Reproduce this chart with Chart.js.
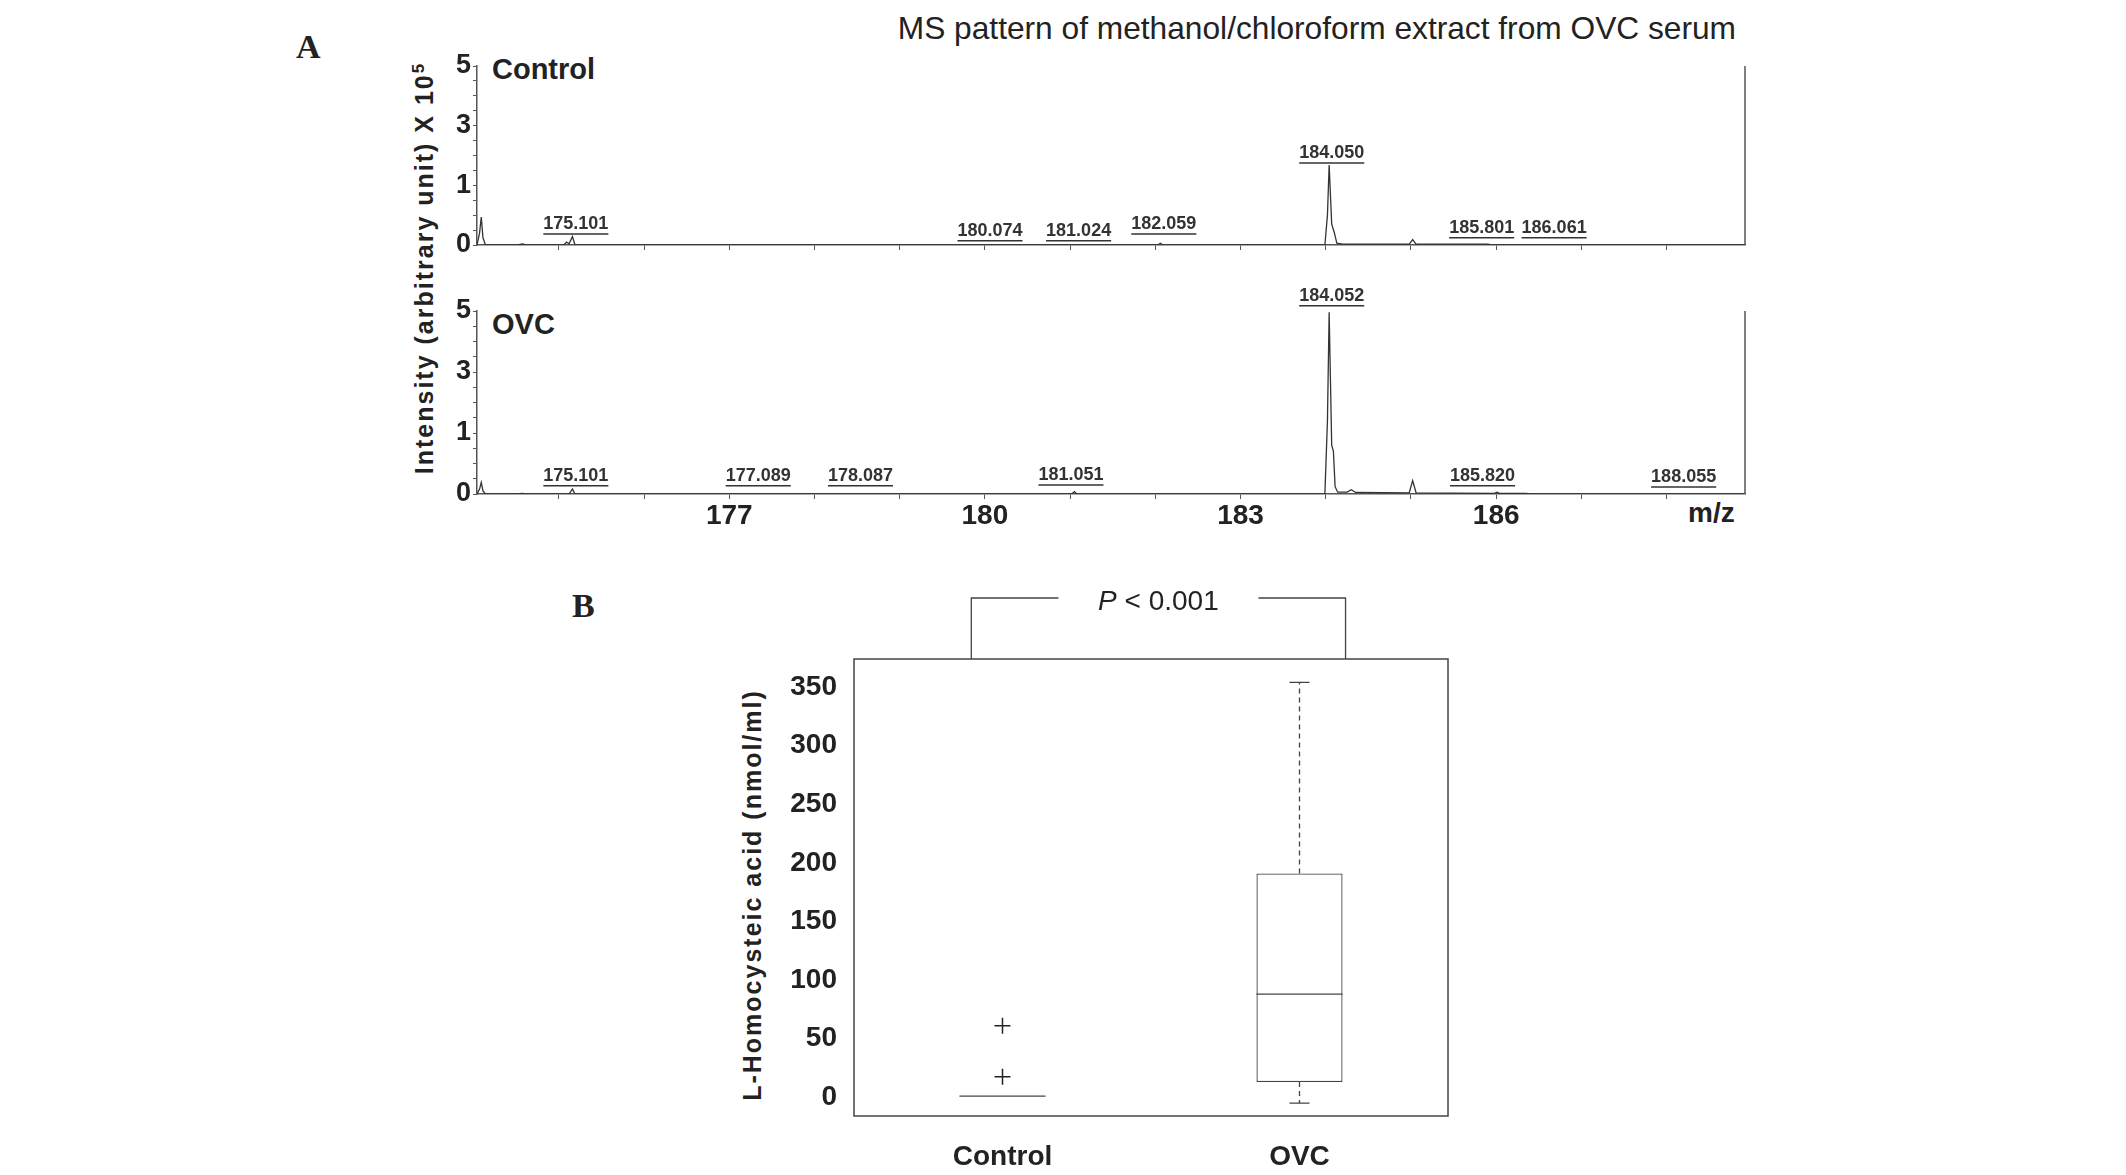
<!DOCTYPE html>
<html>
<head>
<meta charset="utf-8">
<script src="https://cdn.jsdelivr.net/npm/chart.js@4"></script>
<style>
  body { margin: 0; background: #fff; width: 2126px; height: 1175px; position: relative; overflow: hidden; font-family: "Liberation Sans", Arial, sans-serif; color: #222; }
  .abs { position: absolute; }
  .letter { font-family: "Liberation Serif", "Times New Roman", serif; font-weight: bold; font-size: 34px; }
  .rot { transform: translate(-50%, -50%) rotate(-90deg); white-space: nowrap; font-weight: bold; font-size: 25px; letter-spacing: 2px; }
</style>
</head>
<body>
<div class="abs letter" style="left:296px; top:28px;">A</div>
<div class="abs letter" style="left:572px; top:587px;">B</div>
<div class="abs" style="right:390px; top:10px; font-size:31.7px;">MS pattern of methanol/chloroform extract from OVC serum</div>
<div class="abs rot" style="left:424px; top:268px;">Intensity (arbitrary unit) X 10<sup style="font-size:17px;">5</sup></div>
<div class="abs" style="left:492px; top:53px; font-size:29px; font-weight:bold;">Control</div>
<div class="abs" style="left:492px; top:308px; font-size:29px; font-weight:bold;">OVC</div>
<div class="abs" style="left:1688px; top:497px; font-size:28px; font-weight:bold;">m/z</div>
<div class="abs rot" style="left:752px; top:895px;">L-Homocysteic acid (nmol/ml)</div>

<div class="abs" style="left:380px; top:40px; width:1420px; height:225px;"><canvas id="msControl"></canvas></div>
<div class="abs" style="left:380px; top:270px; width:1420px; height:280px;"><canvas id="msOvc"></canvas></div>
<div class="abs" style="left:790px; top:560px; width:710px; height:615px;"><canvas id="boxChart"></canvas></div>

<script>
// ---- panel A: mass spectra (intensity in axis steps, labelled 0,1,3,5 x10^5)
const yTickLabels = ['0', '1', '3', '5'];
const xTickPositions = [175, 176, 177, 178, 179, 180, 181, 182, 183, 184, 185, 186, 187, 188];
const xTickLabels = [177, 180, 183, 186];

const controlMz = [174.04, 174.07, 174.09, 174.11, 174.14, 174.52, 174.57, 174.62, 175.06, 175.09, 175.12, 175.16, 175.19,
  182.03, 182.06, 182.09, 183.99, 184.02, 184.04, 184.07, 184.10, 184.13, 184.20, 184.98, 185.02, 185.06, 185.90, 185.95, 188.92];
const controlInt = [0, 0.20, 0.47, 0.12, 0, 0, 0.02, 0, 0, 0.05, 0.02, 0.14, 0,
  0, 0.03, 0, 0, 0.5, 1.34, 0.35, 0.21, 0.03, 0.015, 0.015, 0.09, 0.015, 0.015, 0, 0];

const ovcMz = [174.04, 174.07, 174.09, 174.11, 174.14, 174.52, 174.57, 174.62, 175.12, 175.16, 175.19, 181.02, 181.05, 181.08,
  183.99, 184.02, 184.04, 184.07, 184.09, 184.11, 184.14, 184.25, 184.30, 184.35, 184.98, 185.02, 185.06, 185.50,
  185.98, 186.01, 186.04, 186.35, 186.40, 188.92];
const ovcInt = [0, 0.08, 0.19, 0.05, 0, 0, 0.01, 0, 0, 0.08, 0, 0, 0.04, 0,
  0, 1.2, 2.98, 0.8, 0.7, 0.12, 0.03, 0.03, 0.07, 0.025, 0.02, 0.22, 0.02, 0.015,
  0.01, 0.03, 0.01, 0.01, 0, 0];

// peak annotations: text, m/z where the label sits, height of the label
const controlPeakText = ['175.101', '180.074', '181.024', '182.059', '184.050', '185.801', '186.061'];
const controlPeakX = [175.2, 180.06, 181.1, 182.1, 184.07, 185.83, 186.68];
const controlPeakY = [0.35, 0.24, 0.24, 0.35, 1.54, 0.29, 0.29];
const ovcPeakText = ['175.101', '177.089', '178.087', '181.051', '184.052', '185.820', '188.055'];
const ovcPeakX = [175.2, 177.34, 178.54, 181.01, 184.07, 185.84, 188.2];
const ovcPeakY = [0.30, 0.30, 0.30, 0.31, 3.25, 0.30, 0.28];

// ---- panel B: box plot
const groups = ['Control', 'OVC'];
const q1 = [1, 13];
const median = [1, 88];
const q3 = [1, 191];
const whiskerLow = [1, -5];
const whiskerHigh = [1, 354];
const outlierGroup = ['Control', 'Control'];
const outlierValue = [61, 17.5];
const boxYTicks = [0, 50, 100, 150, 200, 250, 300, 350];

const ink = '#333';
const axisGrey = '#555';

const peakLabelPlugin = {
  id: 'peakLabels',
  afterDatasetsDraw(chart, args, opts) {
    const ctx = chart.ctx;
    const xs = chart.scales.x, ys = chart.scales.y;
    ctx.save();
    ctx.font = 'bold 18px "Liberation Sans", Arial, sans-serif';
    ctx.fillStyle = ink;
    ctx.strokeStyle = ink;
    ctx.lineWidth = 1.5;
    ctx.textAlign = 'center';
    ctx.textBaseline = 'middle';
    opts.text.forEach((t, i) => {
      const x = xs.getPixelForValue(opts.x[i]);
      const y = ys.getPixelForValue(opts.y[i]);
      ctx.fillText(t, x, y);
      const w = ctx.measureText(t).width;
      ctx.beginPath();
      ctx.moveTo(x - w / 2, y + 10);
      ctx.lineTo(x + w / 2, y + 10);
      ctx.stroke();
    });
    // right-hand border of the spectrum box
    const a = chart.chartArea;
    ctx.strokeStyle = axisGrey;
    ctx.beginPath();
    ctx.moveTo(a.right, a.top);
    ctx.lineTo(a.right, a.bottom);
    ctx.stroke();
    ctx.restore();
  }
};

function msChart(id, mz, inten, peakText, peakX, peakY, showXLabels, padTop, xHeight) {
  return new Chart(document.getElementById(id), {
    type: 'line',
    data: {
      datasets: [{
        data: mz.map((m, i) => ({ x: m, y: inten[i] })),
        borderColor: ink,
        borderWidth: 1.3,
        pointRadius: 0,
        tension: 0
      }]
    },
    options: {
      responsive: true,
      maintainAspectRatio: false,
      animation: false,
      layout: { padding: { top: padTop, right: 55, left: 0, bottom: 0 } },
      plugins: {
        legend: { display: false },
        tooltip: { enabled: false },
        peakLabels: { text: peakText, x: peakX, y: peakY }
      },
      scales: {
        x: {
          type: 'linear',
          min: 174.04,
          max: 188.92,
          afterBuildTicks: (s) => { s.ticks = xTickPositions.map(v => ({ value: v })); },
          afterFit: (s) => { s.height = xHeight; },
          grid: { display: true, drawOnChartArea: false, drawTicks: true, tickLength: 5, color: axisGrey },
          border: { display: true, color: axisGrey, width: 1.5 },
          ticks: {
            display: showXLabels,
            autoSkip: false,
            maxRotation: 0,
            padding: 0,
            color: '#222',
            font: { family: '"Liberation Sans", Arial, sans-serif', size: 28, weight: 'bold' },
            callback: (v) => xTickLabels.includes(v) ? String(v) : ''
          }
        },
        y: {
          type: 'linear',
          min: 0,
          max: 3,
          afterBuildTicks: (s) => {
            const t = [];
            for (let k = 0; k <= 12; k++) t.push({ value: k / 4 });
            s.ticks = t;
          },
          afterFit: (s) => { s.width = 97; },
          grid: { display: true, drawOnChartArea: false, drawTicks: true, tickLength: 4, color: axisGrey },
          border: { display: true, color: axisGrey, width: 1.5 },
          ticks: {
            autoSkip: false,
            padding: 2,
            color: '#222',
            font: { family: '"Liberation Sans", Arial, sans-serif', size: 27, weight: 'bold' },
            callback: (v) => Number.isInteger(v) ? yTickLabels[v] : ''
          }
        }
      }
    },
    plugins: [peakLabelPlugin]
  });
}

msChart('msControl', controlMz, controlInt, controlPeakText, controlPeakX, controlPeakY, false, 26, 20);
msChart('msOvc', ovcMz, ovcInt, ovcPeakText, ovcPeakX, ovcPeakY, true, 41, 56);

// ---- box plot extras: frame, medians, whiskers, p-value bracket
const boxExtras = {
  id: 'boxExtras',
  afterDatasetsDraw(chart) {
    const ctx = chart.ctx;
    const xs = chart.scales.x, ys = chart.scales.y;
    const a = chart.chartArea;
    const bars = chart.getDatasetMeta(0).data;
    ctx.save();
    ctx.strokeStyle = '#444';
    ctx.lineWidth = 1.5;
    ctx.strokeRect(a.left, a.top, a.right - a.left, a.bottom - a.top);

    groups.forEach((g, i) => {
      const cx = xs.getPixelForValue(i);
      const half = bars[i].width / 2;
      ctx.setLineDash([]);
      ctx.lineWidth = 1.3;
      ctx.beginPath();
      ctx.moveTo(cx - half, ys.getPixelForValue(median[i]));
      ctx.lineTo(cx + half, ys.getPixelForValue(median[i]));
      ctx.stroke();
      if (whiskerHigh[i] > q3[i]) {
        ctx.setLineDash([5, 4]);
        ctx.beginPath();
        ctx.moveTo(cx, ys.getPixelForValue(q3[i]));
        ctx.lineTo(cx, ys.getPixelForValue(whiskerHigh[i]));
        ctx.moveTo(cx, ys.getPixelForValue(q1[i]));
        ctx.lineTo(cx, ys.getPixelForValue(whiskerLow[i]));
        ctx.stroke();
        ctx.setLineDash([]);
        ctx.beginPath();
        [whiskerHigh[i], whiskerLow[i]].forEach(v => {
          ctx.moveTo(cx - 10, ys.getPixelForValue(v));
          ctx.lineTo(cx + 10, ys.getPixelForValue(v));
        });
        ctx.stroke();
      }
    });

    // significance bracket between the groups
    const xl = xs.getPixelForValue(-0.105);
    const xr = xs.getPixelForValue(1.155);
    const yTop = a.top - 61;
    const mid = (xl + xr) / 2;
    ctx.font = '28px "Liberation Sans", Arial, sans-serif';
    const rest = ' < 0.001';
    const wRest = ctx.measureText(rest).width;
    ctx.font = 'italic 28px "Liberation Sans", Arial, sans-serif';
    const wP = ctx.measureText('P').width;
    const total = wP + wRest;
    const gap = 100;
    ctx.strokeStyle = '#444';
    ctx.lineWidth = 1.3;
    ctx.beginPath();
    ctx.moveTo(xl, a.top);
    ctx.lineTo(xl, yTop);
    ctx.lineTo(mid - gap, yTop);
    ctx.moveTo(mid + gap, yTop);
    ctx.lineTo(xr, yTop);
    ctx.lineTo(xr, a.top);
    ctx.stroke();
    ctx.fillStyle = '#222';
    ctx.textBaseline = 'middle';
    ctx.textAlign = 'left';
    ctx.fillText('P', mid - total / 2, yTop + 4);
    ctx.font = '28px "Liberation Sans", Arial, sans-serif';
    ctx.fillText(rest, mid - total / 2 + wP, yTop + 4);
    ctx.restore();
  }
};

new Chart(document.getElementById('boxChart'), {
  type: 'bar',
  data: {
    labels: groups,
    datasets: [{
      type: 'bar',
      data: groups.map((g, i) => [q1[i], q3[i]]),
      backgroundColor: '#fff',
      borderColor: '#444',
      borderWidth: 1.3,
      borderSkipped: false,
      categoryPercentage: 1,
      barPercentage: 0.29
    }, {
      type: 'scatter',
      data: outlierGroup.map((g, i) => ({ x: g, y: outlierValue[i] })),
      pointStyle: 'cross',
      pointRadius: 8,
      borderColor: '#222',
      borderWidth: 1.5
    }]
  },
  options: {
    responsive: true,
    maintainAspectRatio: false,
    animation: false,
    layout: { padding: { top: 99, right: 52, left: 0, bottom: 0 } },
    plugins: { legend: { display: false }, tooltip: { enabled: false } },
    scales: {
      x: {
        type: 'category',
        offset: true,
        afterFit: (s) => { s.height = 59; },
        grid: { display: false, drawTicks: false },
        border: { display: false },
        ticks: {
          padding: 24,
          color: '#222',
          font: { family: '"Liberation Sans", Arial, sans-serif', size: 28, weight: 'bold' }
        }
      },
      y: {
        type: 'linear',
        min: -16,
        max: 374,
        afterBuildTicks: (s) => { s.ticks = boxYTicks.map(v => ({ value: v })); },
        afterFit: (s) => { s.width = 64; },
        grid: { display: false, drawTicks: false },
        border: { display: false },
        ticks: {
          padding: 17,
          color: '#222',
          font: { family: '"Liberation Sans", Arial, sans-serif', size: 28, weight: 'bold' }
        }
      }
    }
  },
  plugins: [boxExtras]
});
</script>
</body>
</html>
